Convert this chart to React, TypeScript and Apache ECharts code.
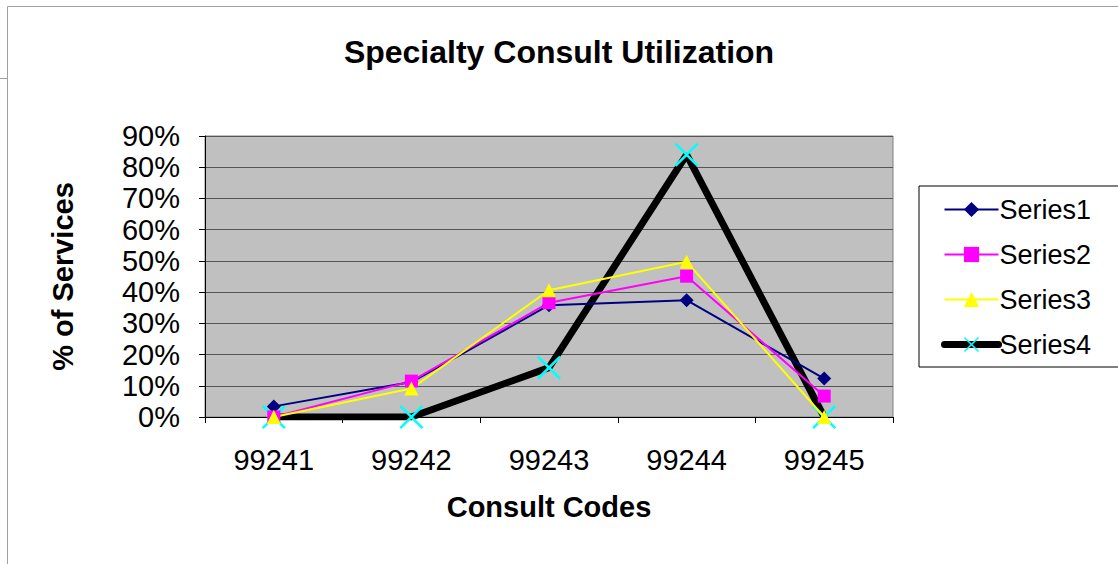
import React, { useEffect, useRef } from "react";
import * as echarts from "echarts";

const categories = ["99241", "99242", "99243", "99244", "99245"];
const series1 = [0.034, 0.112, 0.358, 0.374, 0.123];
const series2 = [0.0, 0.115, 0.366, 0.451, 0.067];
const series3 = [0.0, 0.091, 0.406, 0.497, 0.0];
const series4 = [0.0, 0.0, 0.158, 0.84, 0.0];
const seriesNames = ["Series1", "Series2", "Series3", "Series4"];

const FONT = 'Arial, "Liberation Sans", sans-serif';
const XSHAPE = "path://M0,1.5 L1.5,0 L20,18.5 L18.5,20 Z M18.5,0 L20,1.5 L1.5,20 L0,18.5 Z";

export default function App() {
  const ref = useRef<HTMLDivElement>(null);
  useEffect(() => {
    if (!ref.current) return;
    const chart = echarts.init(ref.current, null, { renderer: "svg" });
    chart.setOption({
      animation: false,
      backgroundColor: "#ffffff",
      textStyle: { fontFamily: FONT },
      title: {
        text: "Specialty Consult Utilization",
        left: "center",
        top: 31,
        textStyle: { fontFamily: FONT, fontSize: 32, fontWeight: "bold", color: "#000" },
      },
      legend: {
        orient: "vertical",
        left: 919,
        top: 186,
        padding: [10, 33, 9, 22],
        itemGap: 18,
        itemWidth: 54,
        itemHeight: 19,
        borderColor: "#000",
        borderWidth: 1,
        backgroundColor: "#fff",
        textStyle: { fontFamily: FONT, fontSize: 27, color: "#000", padding: [0, 0, 0, -4] },
        data: [
          { name: seriesNames[0] },
          { name: seriesNames[1] },
          { name: seriesNames[2] },
          { name: seriesNames[3], lineStyle: { width: 7, cap: "round", color: "#000" } },
        ],
      },
      grid: {
        left: 205,
        right: 225,
        top: 136,
        bottom: 147,
        show: true,
        backgroundColor: "#c0c0c0",
        borderColor: "#808080",
        borderWidth: 1,
      },
      xAxis: {
        type: "category",
        data: categories,
        boundaryGap: true,
        name: "Consult Codes",
        nameLocation: "middle",
        nameGap: 75,
        nameTextStyle: { fontFamily: FONT, fontSize: 29, fontWeight: "bold", color: "#000" },
        axisLine: { lineStyle: { color: "#000", width: 1 } },
        axisTick: { show: true, length: 6, lineStyle: { color: "#000" } },
        axisLabel: { fontFamily: FONT, fontSize: 29, color: "#000", margin: 28 },
        splitLine: { show: false },
      },
      yAxis: {
        type: "value",
        min: 0,
        max: 0.9,
        interval: 0.1,
        name: "% of Services",
        nameLocation: "middle",
        nameGap: 128,
        nameRotate: 90,
        nameTextStyle: { fontFamily: FONT, fontSize: 29, fontWeight: "bold", color: "#000" },
        axisLine: { show: true, lineStyle: { color: "#000", width: 1 } },
        axisTick: { show: true, length: 6, lineStyle: { color: "#000" } },
        axisLabel: {
          fontFamily: FONT,
          fontSize: 29,
          color: "#000",
          margin: 25,
          formatter: (v: number) => Math.round(v * 100) + "%",
        },
        splitLine: { show: true, lineStyle: { color: "#555555", width: 1 } },
      },
      series: [
        {
          name: seriesNames[0],
          type: "line",
          data: series1,
          symbol: "diamond",
          symbolSize: 14,
          lineStyle: { color: "#000080", width: 2 },
          itemStyle: { color: "#000080" },
        },
        {
          name: seriesNames[1],
          type: "line",
          data: series2,
          symbol: "rect",
          symbolSize: 13,
          lineStyle: { color: "#ff00ff", width: 2 },
          itemStyle: { color: "#ff00ff" },
        },
        {
          name: seriesNames[2],
          type: "line",
          data: series3,
          symbol: "triangle",
          symbolSize: 14,
          lineStyle: { color: "#ffff00", width: 2 },
          itemStyle: { color: "#ffff00" },
        },
        {
          name: seriesNames[3],
          type: "line",
          data: series4,
          symbol: XSHAPE,
          symbolSize: 24,
          lineStyle: { color: "#000000", width: 7 },
          itemStyle: { color: "#00ffff" },
          z: 1,
        },
      ],
      graphic: [
        { type: "line", shape: { x1: 7.5, y1: 6.5, x2: 7.5, y2: 564 }, style: { stroke: "#a0a0a0", lineWidth: 1 } },
        { type: "line", shape: { x1: 7.5, y1: 6.5, x2: 1118, y2: 6.5 }, style: { stroke: "#a0a0a0", lineWidth: 1 } },
        { type: "line", shape: { x1: 0, y1: 78.5, x2: 7.5, y2: 78.5 }, style: { stroke: "#a0a0a0", lineWidth: 1 } },
      ],
    });
    return () => chart.dispose();
  }, []);
  return (
    <div
      ref={ref}
      style={{ position: "fixed", left: 0, top: 0, width: 1118, height: 564, background: "#fff" }}
    />
  );
}
